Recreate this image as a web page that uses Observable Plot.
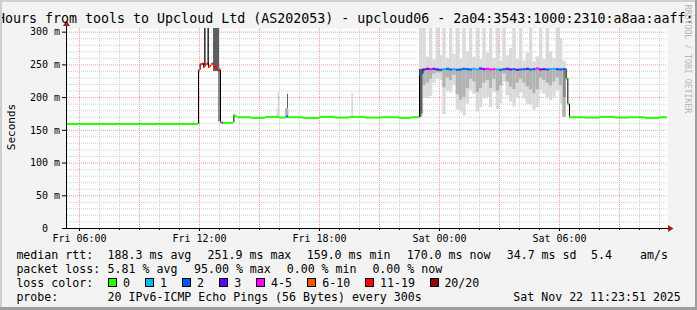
<!DOCTYPE html>
<html><head><meta charset="utf-8">
<script src="https://cdn.jsdelivr.net/npm/d3@7"></script>
<script src="https://cdn.jsdelivr.net/npm/@observablehq/plot@0.6"></script>
<style>
html,body{margin:0;padding:0;background:#f3f3f3;}
svg text{white-space:pre;}
</style></head><body><div id="chart"></div>
<script>
// ---------- texts ----------
const titleText = "Hours from tools to Upcloud Ltd (AS202053) - upcloud06 - 2a04:3543:1000:2310:a8aa:aaff:f";
const yAxisTitle = "Seconds";
const watermark = "RRDTOOL / TOBI OETIKER";
const yTicks = [0, 50, 100, 150, 200, 250, 300];
const yTickLabels = ["0  ", "50 m", "100 m", "150 m", "200 m", "250 m", "300 m"];
const xTickHours = [6, 12, 18, 24, 30];
const xTickLabels = ["Fri 06:00", "Fri 12:00", "Fri 18:00", "Sat 00:00", "Sat 06:00"];
const lossColors = ["#26ff00", "#00b8ff", "#0059ff", "#5e00ff", "#ff00ff", "#ff5500", "#ff0000", "#990000"];
const lossLabels = ["0", "1", "2", "3", "4-5", "6-10", "11-19", "20/20"];
const statRow1 = ["median rtt:", "188.3 ms avg", "251.9 ms max", "159.0 ms min", "170.0 ms now", "34.7 ms sd", "5.4", "am/s"];
const statRow2 = ["packet loss:", "5.81 % avg", "95.00 % max", "0.00 % min", "0.00 % now"];
const lossColorLabel = "loss color:";
const probeRow = ["probe:", "20 IPv6-ICMP Echo Pings (56 Bytes) every 300s", "Sat Nov 22 11:23:51 2025"];

// ---------- time range (hours since Fri 21 Nov 2025 00:00) ----------
const startHour = 5.4, endHour = 35.4;

// ---------- median segments before the plateau ----------
const medStartHours = [5.4, 11.95, 12.033, 12.117, 12.2, 12.283, 12.367, 12.45, 12.533, 12.617, 12.7, 12.783, 12.867, 12.95,
  13.05, 13.13, 13.2, 13.72, 13.8, 13.9, 14.6, 15.3, 16.0, 16.35, 16.45, 17.2, 18.0, 18.8, 19.5, 20.3, 21.1, 22.0, 22.6];
const medValues = [159.5, 241.6, 250.7, 251.9, 246.6, 250.3, 251.8, 246.6, 248.8, 251.8, 249.2, 246.6, 244.2, 241.6,
  162.5, 161.5, 161.5, 173, 171.5, 170, 169, 170.5, 169.5, 171, 170, 169, 170.5, 169.5, 170.5, 169.5, 170, 169, 170];
const medLoss = [0, 6, 6, 6, 6, 6, 6, 6, 6, 6, 6, 6, 6, 6,
  5, 2, 0, 0, 0, 0, 0, 0, 0, 2, 0, 0, 0, 0, 0, 0, 0, 0, 0];

// ---------- plateau, 10-minute bins from Fri 23:00 ----------
const plateauStartHour = 23.0, plateauBinHours = 1 / 6;
const plateauMedian = [236, 243, 244, 243.5, 244, 243, 242.5, 243.5, 244, 243,
  243.5, 242.5, 243, 244, 243.5, 243, 244, 243, 244.5, 243.5,
  244, 243, 243.5, 243, 242.5, 243.5, 244, 243, 243.5, 242.5,
  243, 243.5, 244, 243, 243.5, 244.5, 243, 243.5, 243, 243.5,
  244, 243.5, 243, 243.5];
const plateauLoss = [2, 3, 3, 4, 3, 3, 2, 1, 2, 2,
  1, 2, 2, 2, 2, 2, 1, 1, 3, 3,
  4, 4, 4, 1, 2, 2, 3, 3, 2, 3,
  2, 2, 3, 2, 2, 4, 3, 3, 2, 1,
  1, 2, 2, 2];
const plateauHi = [306, 306, 262, 306, 258, 306, 264, 306, 260, 306,
  266, 306, 258, 306, 270, 306, 262, 306, 258, 306,
  268, 306, 260, 306, 256, 306, 264, 275, 306, 258,
  306, 256, 268, 306, 255, 262, 306, 258, 306, 270,
  260, 306, 290, 256];
const plateauLo = [170, 199, 199, 202, 222, 228, 226, 174, 210, 207,
  218, 181, 178, 172, 190, 211, 205, 178, 185, 198,
  200, 185, 208, 182, 190, 223, 203, 193, 186, 200,
  207, 198, 190, 188, 181, 185, 211, 205, 200, 195,
  200, 210, 190, 170];
const plateauLo2 = [170, 218, 222, 228, 236, 238, 238, 215, 230, 226,
  234, 205, 196, 200, 214, 228, 224, 208, 214, 222,
  226, 214, 228, 210, 218, 236, 224, 216, 212, 222,
  228, 222, 216, 212, 206, 212, 230, 226, 222, 218,
  224, 230, 218, 170];

// ---------- median segments after the plateau ----------
const postStartHours = [30.3334, 30.417, 30.5, 31.3, 32.0, 32.8, 33.5, 34.3, 35.0];
const postValues = [229, 190, 170, 169.5, 170.5, 169.5, 170, 169, 170];
const postLoss = [0, 0, 0, 0, 0, 0, 0, 0, 0];

// ---------- extra smoke columns (density level 1 light .. 6 dark) ----------
const smokeStart = [11.68, 12.25, 12.42, 12.7, 12.95, 15.88, 15.96, 16.3, 16.4, 19.62, 23.0, 23.08, 30.2];
const smokeEnd = [11.75, 12.33, 12.5, 13.0, 13.08, 16.05, 16.0, 16.47, 16.45, 19.7, 23.08, 23.17, 30.33];
const smokeLo = [159, 249, 250, 240, 163, 170, 183, 170, 183, 170, 170, 175, 200];
const smokeHi = [163, 306, 306, 306, 245, 183, 207, 183, 205, 206, 243, 243, 243];
const smokeLevel = [1, 6, 6, 5, 4, 1, 2, 3, 5, 1, 6, 5, 4];

// ---------- build ----------
const T = h => new Date(Date.UTC(2025, 10, 21) + h * 3600000);
const levelColors = [null, "#dadada", "#c4c4c4", "#b2b2b2", "#8a8a8a", "#5e5e5e", "#383838"];

const segs = [];
medStartHours.forEach((h, i) => segs.push({h, v: medValues[i], loss: medLoss[i]}));
plateauMedian.forEach((v, i) => segs.push({h: plateauStartHour + i * plateauBinHours, v, loss: plateauLoss[i]}));
postStartHours.forEach((h, i) => segs.push({h, v: postValues[i], loss: postLoss[i]}));
segs.forEach((s, i) => { s.h1 = i + 1 < segs.length ? segs[i + 1].h : endHour; });

const connectors = [];
for (let i = 1; i < segs.length; i++) {
  if (Math.abs(segs[i].v - segs[i - 1].v) > 3)
    connectors.push({h: segs[i].h, lo: Math.min(segs[i].v, segs[i - 1].v), hi: Math.max(segs[i].v, segs[i - 1].v)});
}

const smoke = [];
plateauHi.forEach((hi, i) => {
  const h0 = plateauStartHour + i * plateauBinHours, h1 = h0 + plateauBinHours;
  smoke.push({h0, h1, lo: plateauLo[i], hi, level: 1});
  smoke.push({h0, h1, lo: plateauLo2[i], hi: plateauMedian[i], level: 3});
});
smokeStart.forEach((h0, i) => smoke.push({h0, h1: smokeEnd[i], lo: smokeLo[i], hi: smokeHi[i], level: smokeLevel[i]}));

const hours = d3.range(6, 36);
const minorHours = hours.filter(h => h % 3 !== 0);
const majorHours = hours.filter(h => h % 3 === 0);
const yMinor = d3.range(10, 301, 10).filter(v => v % 50 !== 0);
const yMajor = yTicks.filter(v => v > 0);
const xLabelMap = new Map(xTickHours.map((h, i) => [+T(h), xTickLabels[i]]));
const mono = "DejaVu Sans Mono";

const chart = Plot.plot({
  width: 697, height: 310,
  marginLeft: 67, marginRight: 30, marginTop: 28, marginBottom: 82,
  style: {background: "#f3f3f3", fontFamily: mono},
  x: {type: "utc", domain: [T(startHour), T(endHour)], axis: null},
  y: {domain: [0, 305.6], axis: null},
  color: {type: "identity"},
  marks: [
    Plot.frame({fill: "#ffffff", stroke: null}),
    Plot.ruleY(yMinor, {stroke: "#cfcfcf", strokeDasharray: "1,1"}),
    Plot.ruleX(minorHours.map(T), {stroke: "#cfcfcf", strokeDasharray: "1,1"}),
    Plot.ruleY(yMajor, {stroke: "#ef9f9f", strokeDasharray: "1,1"}),
    Plot.ruleX(majorHours.map(T), {stroke: "#ef9f9f", strokeDasharray: "1,1"}),
    Plot.rect(smoke, {x1: d => T(d.h0), x2: d => T(d.h1), y1: "lo", y2: "hi", fill: d => levelColors[d.level], clip: true}),
    Plot.ruleX(connectors, {x: d => T(d.h), y1: "lo", y2: "hi", stroke: "#000", strokeWidth: 1}),
    Plot.ruleY(segs, {y: "v", x1: d => T(d.h), x2: d => T(d.h1), stroke: d => lossColors[d.loss], strokeWidth: 2, strokeLinecap: "butt"}),
    Plot.axisY(yTicks, {tickFormat: d => yTickLabels[yTicks.indexOf(d)], tickSize: 5, tickPadding: 2.5, fontSize: 10, fontFamily: mono, label: null}),
    Plot.axisX(hours.map(T), {tickSize: 2, tickFormat: () => "", label: null}),
    Plot.axisX(xTickHours.map(T), {tickFormat: d => xLabelMap.get(+d), tickSize: 3, tickPadding: 3, fontSize: 10, fontFamily: mono, label: null})
  ]
});
document.getElementById("chart").appendChild(chart);

// ---------- decorations ----------
const s = d3.select(chart);
// axis lines and arrows
s.append("line").attr("x1", 66.5).attr("x2", 668).attr("y1", 228.5).attr("y2", 228.5).attr("stroke", "#000");
s.append("line").attr("x1", 66.5).attr("x2", 66.5).attr("y1", 228.5).attr("y2", 25).attr("stroke", "#000");
s.append("polygon").attr("points", "668,225 673.5,228.5 668,232").attr("fill", "#a02020");
s.append("polygon").attr("points", "63,26 66.5,20.5 70,26").attr("fill", "#a02020");
// title
s.append("text").attr("x", -3).attr("y", 23).attr("text-anchor", "start").attr("font-family", mono)
  .attr("font-size", 13.3).attr("fill", "#000").text(titleText);
// y axis title
s.append("text").attr("transform", "translate(15,127) rotate(-90)").attr("text-anchor", "middle")
  .attr("font-family", mono).attr("font-size", 11).attr("fill", "#000").text(yAxisTitle);
// watermark
s.append("text").attr("transform", "translate(684.5,59) rotate(90)").attr("text-anchor", "middle")
  .attr("font-family", mono).attr("font-size", 8.2).attr("fill", "#b4b4b4").text(watermark);
// legend
const L = s.append("g").attr("font-family", mono).attr("font-size", 11.6).attr("fill", "#000").attr("text-anchor", "start");
const rowY = [259, 273, 287, 301];
const row1X = [16.4, 107.6, 207.6, 306.7, 406.7, 506.7, 591, 640];
const row2X = [16.4, 107.6, 194, 286.7, 372.4];
const row4X = [16.4, 107.6, 513.3];
statRow1.forEach((t, i) => L.append("text").attr("x", row1X[i]).attr("y", rowY[0]).text(t));
statRow2.forEach((t, i) => L.append("text").attr("x", row2X[i]).attr("y", rowY[1]).text(t));
L.append("text").attr("x", 16.4).attr("y", rowY[2]).text(lossColorLabel);
const boxX = [108, 145, 182, 219, 256, 307, 365, 430];
const boxLabelX = [123, 160, 197, 234.2, 271.1, 322.2, 380, 444.4];
lossColors.forEach((c, i) => {
  L.append("rect").attr("x", boxX[i] + 0.5).attr("y", 278.5).attr("width", 8).attr("height", 8).attr("fill", c).attr("stroke", "#000");
  L.append("text").attr("x", boxLabelX[i]).attr("y", rowY[2]).text(lossLabels[i]);
});
probeRow.forEach((t, i) => L.append("text").attr("x", row4X[i]).attr("y", rowY[3]).text(t));
// 3D frame
s.append("rect").attr("x", 0).attr("y", 0).attr("width", 697).attr("height", 2).attr("fill", "#cfcfcf");
s.append("rect").attr("x", 0).attr("y", 0).attr("width", 2).attr("height", 310).attr("fill", "#cfcfcf");
s.append("rect").attr("x", 0).attr("y", 307).attr("width", 697).attr("height", 3).attr("fill", "#9e9e9e");
s.append("rect").attr("x", 695).attr("y", 0).attr("width", 2).attr("height", 310).attr("fill", "#9e9e9e");
</script></body></html>
